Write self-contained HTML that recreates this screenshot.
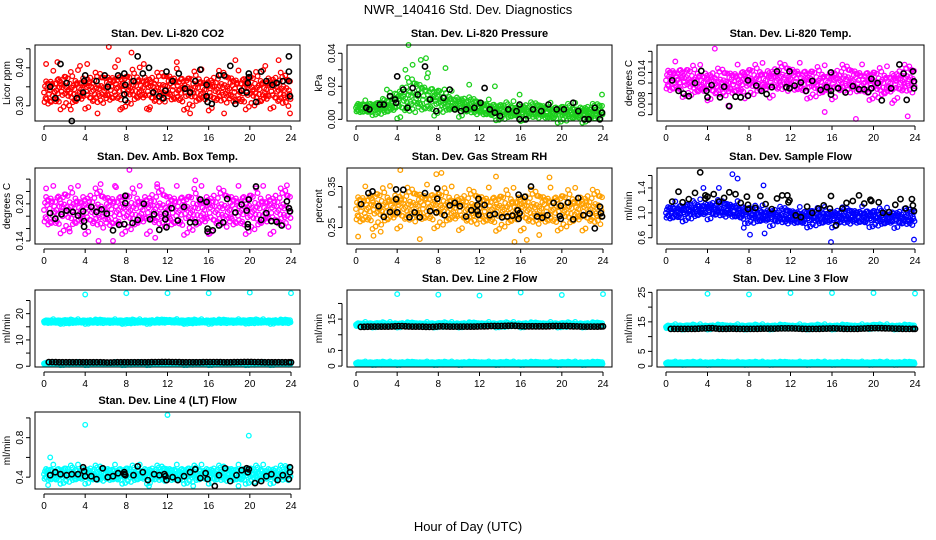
<!DOCTYPE html>
<html><head><meta charset="utf-8"><style>
html,body{margin:0;padding:0;background:#fff;}
svg{display:block;font-family:"Liberation Sans",Arial,sans-serif;}
</style></head><body>
<svg id="chart" width="936" height="540" viewBox="0 0 936 540">
<text x="468" y="14" text-anchor="middle" font-size="13">NWR_140416  Std. Dev. Diagnostics</text>
<text x="468" y="531" text-anchor="middle" font-size="13">Hour of Day (UTC)</text>
</svg>
<script>
const hours = [0,4,8,12,16,20,24];
const co2Mean = [0.335,0.34,0.345,0.34,0.345,0.34,0.345,0.35,0.345,0.35,0.345,0.34,0.35,0.345,0.34,0.345,0.34,0.345,0.345,0.34,0.345,0.34,0.345,0.34,0.335];
const co2Out = [[0.2,0.41],[1.3,0.415],[2.6,0.29],[3.5,0.405],[4.2,0.41],[5.2,0.28],[6.3,0.455],[7.2,0.42],[7.4,0.29],[8.5,0.44],[9.7,0.41],[10.2,0.29],[12.9,0.415],[14.2,0.28],[17.5,0.28],[18.6,0.42],[21.5,0.405],[22.8,0.42],[23.9,0.28]];
const co2Black = [[0.6,0.35],[1.1,0.32],[1.6,0.41],[2.2,0.36],[3.2,0.32],[3.8,0.335],[3.9,0.365],[4.0,0.38],[5.1,0.365],[5.9,0.38],[6.2,0.35],[7.2,0.38],[7.8,0.385],[7.8,0.33],[7.9,0.315],[7.9,0.355],[8.7,0.365],[9.1,0.43],[9.6,0.385],[10.2,0.40],[10.6,0.335],[11.2,0.325],[11.6,0.32],[11.8,0.34],[11.9,0.39],[12.5,0.365],[13.1,0.385],[13.7,0.345],[14.2,0.335],[14.7,0.365],[15.2,0.395],[15.8,0.355],[15.8,0.325],[15.9,0.31],[16.3,0.305],[17,0.38],[17.5,0.38],[18.1,0.405],[18.6,0.305],[19.2,0.34],[19.7,0.335],[19.8,0.36],[19.9,0.375],[19.9,0.385],[20.6,0.31],[21.1,0.39],[21.6,0.365],[22.2,0.355],[22.6,0.36],[23.2,0.365],[23.8,0.43],[23.8,0.39],[23.8,0.365],[23.9,0.325],[2.7,0.26]];
const presMean = [0.007,0.007,0.007,0.008,0.011,0.013,0.014,0.013,0.012,0.01,0.009,0.008,0.007,0.006,0.005,0.005,0.005,0.005,0.005,0.004,0.004,0.004,0.004,0.004,0.005];
const presSpread = [0.003,0.003,0.003,0.004,0.007,0.009,0.009,0.008,0.006,0.005,0.005,0.004,0.004,0.004,0.004,0.004,0.004,0.004,0.004,0.004,0.004,0.004,0.004,0.004,0.004];
const presOut = [[5.1,0.045],[6.3,0.036],[6.8,0.037],[5.5,0.033],[4.8,0.03],[8.7,0.031],[13.5,0.02],[15.9,0.015],[23.9,0.015],[3,0.018],[11,0.021],[7,0.028]];
const presBlack = [[1,0.007],[1.3,0.006],[2.3,0.009],[2.7,0.009],[3.3,0.014],[3.8,0.012],[3.9,0.01],[4,0.026],[4.6,0.018],[5,0.007],[5.5,0.019],[6,0.015],[6.7,0.032],[7.2,0.012],[7.8,0.005],[8.5,0.013],[9.1,0.018],[9.6,0.006],[10.2,0.005],[10.7,0.006],[11.5,0.007],[12.1,0.01],[12.5,0.019],[13,0.006],[13.5,0.004],[14,0.002],[14.8,0.006],[15.6,0.005],[15.9,0.009],[15.9,0],[16.5,0],[17.2,0.006],[18,0.005],[18.7,0.009],[19.5,0.006],[20.2,0.006],[21.1,0.01],[21.6,0.005],[22.2,0],[22.6,0],[23.2,0.007],[23.7,0],[23.9,0.004]];
const tempMean = [0.0125,0.0128,0.0125,0.0122,0.012,0.0118,0.012,0.0122,0.0125,0.0125,0.0125,0.0128,0.0128,0.0125,0.0122,0.012,0.0122,0.0125,0.0125,0.0122,0.012,0.0118,0.012,0.0125,0.0125];
const tempOut = [[4.7,0.0185],[18.3,0.0052],[23.3,0.0057],[15.3,0.0065],[21.8,0.0082],[6,0.0077]];
const tempBlack = [[0.6,0.0125],[1.2,0.0105],[1.7,0.01],[2.2,0.0095],[2.8,0.012],[3.4,0.0143],[3.9,0.0105],[4,0.0093],[4.4,0.0116],[5.2,0.0093],[5.6,0.0113],[6.1,0.0076],[6.7,0.0094],[7.2,0.0093],[7.9,0.0125],[7.9,0.0096],[8.7,0.0115],[9.2,0.0105],[9.7,0.0099],[10.2,0.0112],[10.7,0.0142],[11.6,0.0112],[11.9,0.0142],[11.9,0.011],[12.4,0.0115],[13,0.0121],[13.5,0.0105],[14.1,0.0124],[14.9,0.0107],[15.5,0.0112],[15.9,0.014],[15.9,0.0105],[15.9,0.0098],[16.6,0.011],[17.3,0.0102],[18,0.0114],[18.6,0.0108],[19.1,0.0108],[19.5,0.0103],[19.8,0.011],[19.8,0.0128],[20.4,0.012],[20.8,0.0087],[21.7,0.011],[22.5,0.0155],[22.9,0.0138],[23.2,0.0088],[23.8,0.0142],[23.9,0.0123],[23.9,0.011]];
const ambMean = [0.19,0.19,0.192,0.19,0.19,0.19,0.188,0.19,0.19,0.19,0.19,0.192,0.19,0.19,0.188,0.19,0.19,0.19,0.19,0.19,0.19,0.19,0.19,0.19,0.19];
const ambOut = [[8.3,0.255],[14.7,0.238],[11,0.232],[5.5,0.232],[7,0.227],[2.5,0.155],[5.3,0.14],[6.7,0.14],[10.8,0.145],[16.1,0.152],[23.6,0.23],[0.2,0.225]];
const ambBlack = [[0.6,0.185],[1.1,0.176],[1.7,0.183],[2.2,0.189],[2.8,0.187],[3.3,0.181],[3.8,0.188],[3.9,0.172],[3.9,0.163],[4.6,0.195],[5.1,0.187],[5.6,0.191],[6.1,0.184],[6.7,0.157],[7.3,0.166],[7.8,0.167],[7.9,0.213],[7.9,0.201],[8.6,0.169],[9.1,0.174],[9.7,0.2],[10.3,0.175],[10.7,0.183],[11.2,0.158],[11.8,0.175],[11.8,0.184],[11.9,0.162],[12.4,0.193],[13,0.173],[13.6,0.195],[14.2,0.17],[14.7,0.17],[15.2,0.207],[15.8,0.203],[15.9,0.16],[15.9,0.155],[16.4,0.157],[17,0.165],[17.4,0.17],[17.8,0.208],[18.6,0.186],[19.2,0.199],[19.7,0.189],[19.8,0.167],[19.8,0.162],[19.9,0.207],[20.6,0.228],[21.1,0.174],[21.6,0.185],[22.1,0.172],[22.6,0.171],[23.1,0.165],[23.6,0.204],[23.8,0.193],[23.9,0.188]];
const rhMean = [0.295,0.298,0.3,0.298,0.3,0.3,0.302,0.302,0.3,0.298,0.296,0.295,0.296,0.295,0.294,0.294,0.295,0.295,0.296,0.295,0.295,0.294,0.295,0.295,0.295];
const rhOut = [[0.2,0.228],[1.7,0.23],[4.3,0.39],[7.8,0.38],[8.3,0.383],[13.6,0.374],[15.4,0.215],[16.6,0.22],[17.8,0.232],[18.8,0.372],[2.4,0.24],[6.2,0.222]];
const rhBlack = [[0.5,0.307],[1.2,0.334],[1.6,0.338],[2.2,0.302],[2.7,0.276],[3.3,0.288],[3.9,0.319],[3.9,0.343],[4,0.287],[4.6,0.342],[5.2,0.275],[5.7,0.287],[6.2,0.275],[6.7,0.334],[7.2,0.29],[7.8,0.287],[7.9,0.32],[7.9,0.345],[8.6,0.28],[9.1,0.304],[9.6,0.31],[10.1,0.302],[10.7,0.277],[11.2,0.292],[11.8,0.305],[11.8,0.29],[11.9,0.281],[11.9,0.32],[12.5,0.305],[13,0.28],[13.5,0.283],[14.2,0.275],[14.7,0.277],[15.2,0.279],[15.7,0.292],[15.8,0.271],[15.9,0.285],[15.8,0.33],[16.4,0.325],[17,0.35],[17.6,0.277],[18.1,0.274],[18.6,0.28],[19.2,0.31],[19.8,0.278],[19.9,0.271],[19.9,0.303],[20.6,0.311],[21.1,0.27],[21.6,0.322],[22.1,0.28],[22.7,0.284],[23.2,0.248],[23.7,0.301],[23.8,0.285],[23.9,0.277]];
const flowMean = [1.0,1.02,1.03,1.05,1.06,1.06,1.05,1.02,0.98,0.96,0.95,0.95,0.94,0.93,0.93,0.93,0.93,0.94,0.94,0.94,0.93,0.92,0.92,0.92,0.92];
const flowOut = [[6.4,1.62],[6.9,1.55],[9.4,1.44],[8.1,0.65],[9.5,0.67],[15.9,0.53],[23.9,0.57],[5.1,1.4],[3.6,1.4],[7.5,0.76]];
const flowBlack = [[0.6,1.18],[1.2,1.34],[1.6,1.17],[2.2,1.22],[2.8,1.32],[3.3,1.65],[3.8,1.28],[3.8,1.23],[4,1.26],[4.6,1.3],[5.1,1.18],[5.6,1.24],[6.1,1.33],[6.7,1.3],[7.2,1.16],[7.8,1.26],[7.9,1.13],[7.9,1.06],[8.6,1.08],[9.1,1.27],[9.6,1.14],[10.2,1.06],[10.7,1.23],[11.2,1.28],[11.7,1.28],[11.8,1.17],[11.9,1.2],[12.5,0.96],[13,0.93],[13.6,1.1],[14.1,1.0],[14.7,1.07],[15.2,1.12],[15.8,1.07],[15.9,1.27],[16.4,0.8],[17,1.07],[17.4,1.16],[18,1.19],[18.6,1.28],[19.1,1.15],[19.7,1.21],[19.8,1.19],[20.5,1.17],[20.9,1.0],[21.5,1.01],[22.1,1.13],[22.6,1.22],[23.1,1.07],[23.7,1.22],[23.8,1.12],[23.9,1.03]];
const line1High = [17,17,17,17,17,17,17,17,17,17,17,17,17.2,17,17,17,17,17,17,17,17.1,17,17,17,17];
const line1Low = [1,1,1,1,1,1,1,1,1,1,1,1,1,1,1,1,1,1,1,1,1,1,1,1,1];
const line1Black = [1.6,1.5,1.5,1.5,1.5,1.5,1.4,1.5,1.5,1.5,1.5,1.6,1.6,1.5,1.5,1.5,1.6,1.5,1.5,1.6,1.6,1.5,1.5,1.5,1.5];
const line1Out = [[4,27.3],[8,27.8],[12,27.8],[16,27.8],[20,28],[24,27.8]];
const line2High = [13.2,13.2,13.2,13.2,13.2,13.2,13.2,13.2,13.2,13.2,13.2,13.2,13.2,13.2,13.2,13.2,13.2,13.2,13.2,13.2,13.2,13.2,13.2,13.2,13.2];
const line2Low = [0.9,0.9,0.9,0.9,0.9,0.9,0.9,0.9,0.9,0.9,0.9,0.9,0.9,0.9,0.9,0.9,0.9,0.9,0.9,0.9,0.9,0.9,0.9,0.9,0.9];
const line2Black = [12.5,12.6,12.6,12.6,12.8,12.6,12.6,12.5,12.7,12.6,12.6,12.6,12.7,12.8,12.8,12.9,12.7,12.7,12.7,12.8,12.8,12.7,12.6,12.6,12.7];
const line2Out = [[4,23],[8,22.8],[12,22.5],[16,23.5],[20,22.7],[24,23]];
const line3High = [13.3,13.3,13.3,13.3,13.3,13.3,13.3,13.3,13.3,13.3,13.3,13.3,13.3,13.3,13.3,13.3,13.3,13.3,13.3,13.3,13.5,13.3,13.3,13.3,13.3];
const line3Low = [1,1,1,1,1,1,1,1,1,1,1,1,1,1,1,1,1,1,1,1,1,1,1,1,1];
const line3Black = [12.6,12.6,12.6,12.7,12.9,12.6,12.7,12.6,12.6,12.7,12.7,12.8,12.8,12.6,12.6,12.7,12.8,12.6,12.6,12.8,12.9,12.8,12.7,12.6,12.6];
const line3Out = [[4,24.5],[8,24.3],[12,24.8],[16,24.8],[20,24.8],[24,24.6]];
const line4Mean = [0.43,0.43,0.43,0.43,0.43,0.43,0.43,0.43,0.43,0.43,0.43,0.43,0.43,0.43,0.43,0.43,0.43,0.43,0.43,0.43,0.43,0.43,0.43,0.43,0.44];
const line4Out = [[0.6,0.6],[0.4,0.32],[4,0.93],[12,1.03],[19.9,0.82],[10.2,0.31],[14.5,0.31],[18.9,0.31]];
const line4Black = [[0.6,0.42],[1.1,0.45],[1.6,0.43],[2.2,0.42],[2.7,0.43],[3.3,0.43],[3.8,0.5],[3.9,0.46],[4,0.41],[4.6,0.41],[5.1,0.38],[5.7,0.49],[6.2,0.4],[6.7,0.41],[7.2,0.44],[7.8,0.43],[7.8,0.45],[7.9,0.42],[8.7,0.42],[9.1,0.51],[9.6,0.45],[10.1,0.37],[10.7,0.43],[11.2,0.42],[11.7,0.43],[11.8,0.41],[11.9,0.37],[12.5,0.4],[13,0.37],[13.6,0.41],[14.2,0.45],[14.7,0.48],[15.2,0.39],[15.7,0.44],[15.9,0.38],[16.6,0.31],[17,0.42],[17.6,0.49],[18.1,0.36],[18.7,0.42],[19.2,0.47],[19.7,0.49],[19.8,0.45],[19.9,0.48],[20.5,0.34],[21.1,0.36],[21.6,0.41],[22.1,0.43],[22.7,0.37],[23.2,0.42],[23.8,0.38],[23.9,0.45],[23.9,0.5]];

// layout constants
const COLS = [{l:35,r:300},{l:347,r:612},{l:657,r:924}];
const ROWS = [{t:45,b:121},{t:168,b:244},{t:290,b:367},{t:412,b:489}];
const OFFS = [0,-0.8,0.5,-0.3,0.9,-0.6,0.2,0.7,-1,0.4,-0.2,0.1,-0.5,0.8,-0.9,0.3,0.6,-0.4,1,-0.7,0.15,-0.15,0.55,-0.55];
const NS = 'http://www.w3.org/2000/svg';
const svg = document.getElementById('chart');

const panels = [
 {name:'co2',title:'Stan. Dev. Li-820 CO2',ylab:'Licor ppm',col:'#ff0000',c:0,r:0,ymin:0.26,ymax:0.46,ticks:[0.30,0.35,0.40,0.45],labs:[0.30,0.40],dec:2,
  clouds:[{m:co2Mean,s:0.035}],out:co2Out,black:co2Black},
 {name:'pressure',title:'Stan. Dev. Li-820 Pressure',ylab:'kPa',col:'#1ed01e',c:1,r:0,ymin:-0.001,ymax:0.045,ticks:[0,0.01,0.02,0.03,0.04],labs:[0,0.02,0.04],dec:2,
  clouds:[{m:presMean,s:presSpread}],out:presOut,black:presBlack},
 {name:'li820-temp',title:'Stan. Dev. Li-820 Temp.',ylab:'degrees C',col:'#ff00ff',c:2,r:0,ymin:0.0048,ymax:0.0192,ticks:[0.006,0.008,0.010,0.012,0.014,0.016,0.018],labs:[0.008,0.014],dec:3,
  clouds:[{m:tempMean,s:0.0022}],out:tempOut,black:tempBlack},
 {name:'amb-box-temp',title:'Stan. Dev. Amb. Box Temp.',ylab:'degrees C',col:'#ff00ff',c:0,r:1,ymin:0.135,ymax:0.258,ticks:[0.14,0.16,0.18,0.20,0.22,0.24],labs:[0.14,0.20],dec:2,
  clouds:[{m:ambMean,s:0.026}],out:ambOut,black:ambBlack},
 {name:'gas-stream-rh',title:'Stan. Dev. Gas Stream RH',ylab:'percent',col:'#ffa000',c:1,r:1,ymin:0.21,ymax:0.395,ticks:[0.25,0.30,0.35],labs:[0.25,0.35],dec:2,
  clouds:[{m:rhMean,s:0.035}],out:rhOut,black:rhBlack},
 {name:'sample-flow',title:'Stan. Dev. Sample Flow',ylab:'ml/min',col:'#0000ff',c:2,r:1,ymin:0.5,ymax:1.72,ticks:[0.6,0.8,1.0,1.2,1.4,1.6],labs:[0.6,1.0,1.4],dec:1,
  clouds:[{m:flowMean,s:0.11}],out:flowOut,black:flowBlack},
 {name:'line1-flow',title:'Stan. Dev. Line 1 Flow',ylab:'ml/min',col:'#00ffff',c:0,r:2,ymin:-0.3,ymax:29,ticks:[0,5,10,15,20,25],labs:[0,10,20],dec:0,
  clouds:[{m:line1High,s:0.6},{m:line1Low,s:0.4}],out:line1Out,blackLevel:line1Black},
 {name:'line2-flow',title:'Stan. Dev. Line 2 Flow',ylab:'ml/min',col:'#00ffff',c:1,r:2,ymin:-0.3,ymax:24.3,ticks:[0,5,10,15,20],labs:[0,5,15],dec:0,
  clouds:[{m:line2High,s:0.6},{m:line2Low,s:0.4}],out:line2Out,blackLevel:line2Black},
 {name:'line3-flow',title:'Stan. Dev. Line 3 Flow',ylab:'ml/min',col:'#00ffff',c:2,r:2,ymin:-0.3,ymax:25.8,ticks:[0,5,10,15,20,25],labs:[0,5,15,25],dec:0,
  clouds:[{m:line3High,s:0.6},{m:line3Low,s:0.4}],out:line3Out,blackLevel:line3Black},
 {name:'line4-flow',title:'Stan. Dev. Line 4 (LT) Flow',ylab:'ml/min',col:'#00ffff',c:0,r:3,ymin:0.28,ymax:1.06,ticks:[0.4,0.6,0.8,1.0],labs:[0.4,0.8],dec:1,
  clouds:[{m:line4Mean,s:0.065}],out:line4Out,black:line4Black}
];

function el(tag, attrs, parent){const e=document.createElementNS(NS,tag);for(const k in attrs)e.setAttribute(k,attrs[k]);parent.appendChild(e);return e;}

panels.forEach(p=>{
  const C=COLS[p.c], R=ROWS[p.r];
  const x0=C.l+9, x1=C.r-9;
  const X=h=>x0+(x1-x0)*h/24;
  const Y=v=>R.b-(R.b-R.t)*(v-p.ymin)/(p.ymax-p.ymin);
  const g=el('g',{},svg);
  
  
  const t=el('text',{x:(C.l+C.r)/2,y:R.t-8,'text-anchor':'middle','font-size':'11','font-weight':'bold'},g);
  t.textContent=p.title;
  
  
  const pts=el('g',{fill:'none'},g);
  
  
  p.clouds.forEach(cl=>{
    for(let h=0;h<24;h++){
      const N=20;
      for(let k=0;k<N;k++){
        const f=k/N, hh=h+f;
        const m=cl.m[h]*(1-f)+cl.m[h+1]*f;
        const s=Array.isArray(cl.s)?(cl.s[h]*(1-f)+cl.s[h+1]*f):cl.s;
        const v=m+s*OFFS[(h*N+k)%OFFS.length]*(k%3===0?1.5:0.9);
        const c=el('circle',{cx:X(hh).toFixed(1),cy:Y(v).toFixed(1),r:2.3,stroke:p.col,'stroke-width':1.3},pts);
        
        
      }
    }
  });
  p.out.forEach(o=>{
    const c=el('circle',{cx:X(o[0]).toFixed(1),cy:Y(o[1]).toFixed(1),r:2.3,stroke:p.col,'stroke-width':1.3},pts);
    
    
  });
  const blk=[];
  if(p.black) p.black.forEach(b=>blk.push(b));
  if(p.blackLevel){for(let h=0;h<24;h++){for(let k=0;k<3;k++){const f=(k+0.5)/3;blk.push([h+f+0.3>24?24:h+f+0.3, p.blackLevel[h]*(1-f)+p.blackLevel[h+1]*f]);}}}
  blk.forEach(b=>{
    if(b[0]>24) return;
    const c=el('circle',{cx:X(b[0]).toFixed(1),cy:Y(b[1]).toFixed(1),r:2.6,stroke:'#000','stroke-width':1.6},pts);
    
    
  });
  const box=el('rect',{x:C.l,y:R.t,width:C.r-C.l,height:R.b-R.t,fill:'none',stroke:'#000','stroke-width':1},g);
  
  
  const xa=el('g',{stroke:'#000','stroke-width':1},g);
  
  
  const ay=R.b+5;
  el('line',{x1:X(hours[0]),x2:X(hours[hours.length-1]),y1:ay,y2:ay},xa);
  hours.forEach(h=>{
    el('line',{x1:X(h),x2:X(h),y1:ay,y2:ay+4},xa);
    const tl=el('text',{x:X(h),y:ay+15,'text-anchor':'middle','font-size':'10',stroke:'none',fill:'#000'},xa);
    tl.textContent=h;
    
    
  });
  const ya=el('g',{stroke:'#000','stroke-width':1},g);
  
  
  const ax=C.l-5;
  const tk=p.ticks.filter(v=>v>=p.ymin&&v<=p.ymax);
  el('line',{x1:ax,x2:ax,y1:Y(tk[0]),y2:Y(tk[tk.length-1])},ya);
  tk.forEach(v=>{
    el('line',{x1:ax,x2:ax-4,y1:Y(v),y2:Y(v)},ya);
  });
  p.labs.forEach(v=>{
    const lx=ax-7, ly=Y(v);
    const tl=el('text',{x:lx,y:ly,'text-anchor':'middle','font-size':'10',stroke:'none',fill:'#000',transform:`rotate(-90 ${lx} ${ly})`},ya);
    tl.textContent=v.toFixed(p.dec);
    
    
  });
  const yl=C.l-25, ym=(R.t+R.b)/2;
  const yt=el('text',{x:yl,y:ym,'text-anchor':'middle','font-size':'10',transform:`rotate(-90 ${yl} ${ym})`},g);
  yt.textContent=p.ylab;
  
  
});
</script>
</body></html>
